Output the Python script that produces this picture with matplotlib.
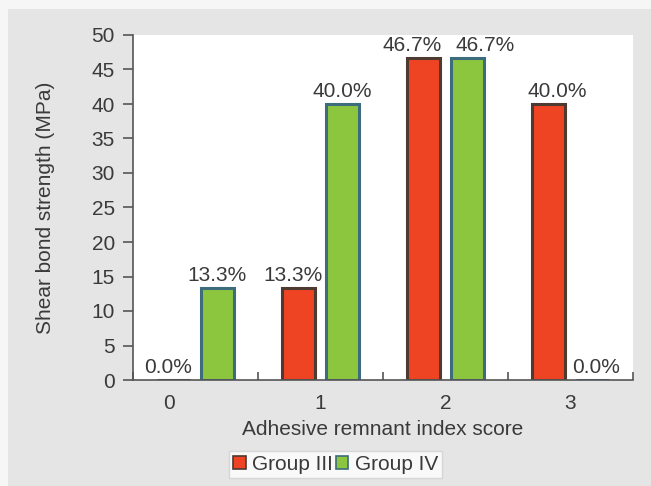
import matplotlib.pyplot as plt
import matplotlib.transforms as mtransforms
import numpy as np
from matplotlib.patches import Rectangle

plt.rcParams['font.family'] = ['Liberation Sans', 'DejaVu Sans']

scores = ['0', '1', '2', '3']
group3 = [0.0, 13.3, 46.7, 40.0]
group4 = [13.3, 40.0, 46.7, 0.0]
series_names = ['Group III', 'Group IV']

# sideways nudges (points) so neighbouring value labels don't collide
nudge3 = [-4, -4, -8, 6]
nudge4 = [0, 0, 13, 3]

text_col = '#3a3a3a'
fs = 15
fig = plt.figure(figsize=(6.51, 4.86), dpi=100, facecolor='#f6f6f6')
# grey panel behind the chart
fig.patches.append(Rectangle((8 / 651, 0), 1, 1 - 9 / 486, transform=fig.transFigure,
                             facecolor='#e5e5e5', edgecolor='none', zorder=-1))

ax = fig.add_axes([133 / 651, 1 - 380 / 486, 500 / 651, 345 / 486])
ax.set_facecolor('white')

x = np.arange(len(scores))
w = 0.265
off = 0.175
b3 = ax.bar(x - off, group3, w, color='#ee4424', edgecolor='#4e3a30', linewidth=2.2,
            label=series_names[0])
b4 = ax.bar(x + off, group4, w, color='#8cc63f', edgecolor='#3d6c7c', linewidth=2.2,
            label=series_names[1])

for bars, vals, nud in ((b3, group3, nudge3), (b4, group4, nudge4)):
    for r, v, dx in zip(bars, vals, nud):
        ax.annotate('%.1f%%' % v, (r.get_x() + r.get_width() / 2, v),
                    xytext=(dx, 2), textcoords='offset points',
                    ha='center', va='bottom', fontsize=fs, color=text_col)

ax.set_xlim(-0.5, 3.5)
ax.set_ylim(0, 50)
ax.set_yticks(np.arange(0, 51, 5))
ax.set_xticks(x)
ax.set_xticklabels(scores)
ax.set_xticks(np.arange(-0.5, 3.6, 1), minor=True)
ax.tick_params(axis='x', which='major', length=0, pad=10, labelsize=fs, labelcolor=text_col)
ax.tick_params(axis='x', which='minor', direction='in', length=6, width=1.2, color='#555555')
ax.tick_params(axis='y', direction='out', length=7, width=1.2, color='#555555',
               labelsize=fs, labelcolor=text_col, pad=6)

# first score label sits left of its group
lab0 = ax.get_xticklabels()[0]
lab0.set_transform(lab0.get_transform() + mtransforms.ScaledTranslation(-0.27, 0, fig.dpi_scale_trans))

for s in ('top', 'right'):
    ax.spines[s].set_visible(False)
for s in ('left', 'bottom'):
    ax.spines[s].set_color('#555555')
    ax.spines[s].set_linewidth(1.2)

ax.set_xlabel('Adhesive remnant index score', fontsize=fs, color=text_col, labelpad=5)
ax.set_ylabel('Shear bond strength (MPa)', fontsize=fs, color=text_col, labelpad=26)

leg = ax.legend(loc='upper center', bbox_to_anchor=(0.405, -0.205), ncol=2, fontsize=fs,
                frameon=True, fancybox=False, handlelength=0.6, handleheight=0.6,
                handletextpad=0.3, columnspacing=0.15, borderpad=0.2, borderaxespad=0,
                labelcolor=text_col)
leg.get_frame().set_edgecolor('#d0d0d0')
leg.get_frame().set_linewidth(1.0)
for h in leg.legend_handles:
    h.set_linewidth(1.2)

fig.savefig('out.png', dpi=100, facecolor=fig.get_facecolor())
